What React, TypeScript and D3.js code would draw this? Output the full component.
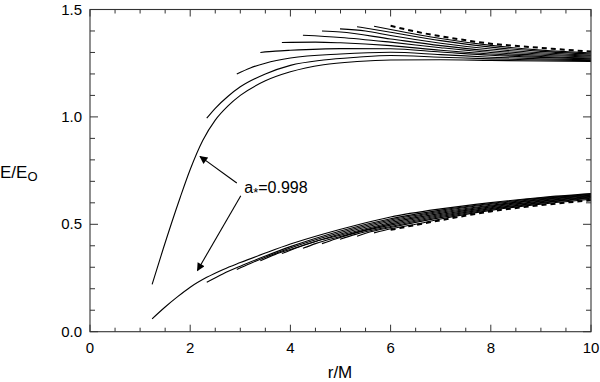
import React from "react";
import { scaleLinear, line, curveMonotoneX } from "d3";

// spin values of the curves (the last one, a*=0, is dashed)
const spins = [0.998, 0.9, 0.8, 0.7, 0.6, 0.5, 0.4, 0.3, 0.2, 0.1, 0];

// upper family: [r/M, E/Eo]
const upperCurves: [number, number][][] = [
  [[1.24, 0.22], [1.46, 0.385], [1.8, 0.625], [2.0, 0.755], [2.25, 0.89], [2.5, 0.985], [2.75, 1.05], [3, 1.1], [3.5, 1.168], [4, 1.21], [4.66, 1.243], [5.33, 1.258], [6, 1.265], [7, 1.266], [8, 1.263], [9, 1.26], [10, 1.258]],
  [[2.33, 0.994], [2.5, 1.04], [2.75, 1.095], [3, 1.14], [3.5, 1.2], [4, 1.24], [4.66, 1.265], [5.33, 1.278], [6, 1.286], [7, 1.278], [8, 1.27], [9, 1.265], [10, 1.262]],
  [[2.93, 1.2], [3.2, 1.228], [3.5, 1.25], [4, 1.274], [5, 1.293], [6, 1.301], [7, 1.29], [8, 1.278], [9, 1.27], [10, 1.266]],
  [[3.4, 1.3], [3.7, 1.306], [4, 1.31], [5, 1.318], [6, 1.317], [7, 1.302], [8, 1.287], [9, 1.277], [10, 1.27]],
  [[3.83, 1.346], [4, 1.347], [4.5, 1.348], [5, 1.345], [6, 1.332], [7, 1.31], [8, 1.293], [9, 1.281], [10, 1.274]],
  [[4.25, 1.38], [5, 1.37], [6, 1.348], [7, 1.322], [8, 1.3], [9, 1.287], [10, 1.279]],
  [[4.63, 1.4], [5, 1.395], [6, 1.363], [7, 1.332], [8, 1.308], [9, 1.293], [10, 1.284]],
  [[4.99, 1.41], [5.5, 1.4], [6, 1.379], [7, 1.343], [8, 1.316], [9, 1.299], [10, 1.288]],
  [[5.33, 1.42], [6, 1.394], [7, 1.355], [8, 1.325], [9, 1.305], [10, 1.293]],
  [[5.67, 1.422], [6, 1.407], [7, 1.365], [8, 1.333], [9, 1.311], [10, 1.298]],
  [[6, 1.424], [6.65, 1.39], [7.3, 1.364], [8, 1.341], [8.65, 1.328], [9.3, 1.316], [10, 1.304]],
];

// lower family: [r/M, E/Eo]
const lowerCurves: [number, number][][] = [
  [[1.24, 0.06], [1.5, 0.115], [1.75, 0.163], [2, 0.207], [2.33, 0.253], [2.66, 0.29], [3, 0.322], [3.5, 0.366], [4, 0.408], [4.66, 0.455], [5.33, 0.497], [6, 0.534], [7, 0.572], [8, 0.601], [9, 0.625], [10, 0.643]],
  [[2.33, 0.23], [2.66, 0.27], [3, 0.305], [3.5, 0.352], [4, 0.396], [5, 0.469], [6, 0.526], [7, 0.566], [8, 0.597], [9, 0.622], [10, 0.641]],
  [[2.93, 0.29], [3.2, 0.318], [3.5, 0.347], [4, 0.39], [5, 0.462], [6, 0.52], [7, 0.561], [8, 0.593], [9, 0.619], [10, 0.638]],
  [[3.4, 0.33], [3.7, 0.36], [4, 0.383], [5, 0.455], [6, 0.514], [7, 0.556], [8, 0.589], [9, 0.615], [10, 0.636]],
  [[3.83, 0.364], [4.1, 0.389], [4.5, 0.42], [5, 0.449], [6, 0.508], [7, 0.551], [8, 0.585], [9, 0.612], [10, 0.633]],
  [[4.25, 0.388], [4.5, 0.41], [5, 0.443], [6, 0.502], [7, 0.546], [8, 0.581], [9, 0.608], [10, 0.63]],
  [[4.63, 0.41], [4.9, 0.432], [5.3, 0.46], [6, 0.496], [7, 0.541], [8, 0.577], [9, 0.605], [10, 0.627]],
  [[4.99, 0.43], [5.3, 0.453], [6, 0.49], [7, 0.536], [8, 0.573], [9, 0.601], [10, 0.624]],
  [[5.33, 0.444], [5.6, 0.465], [6, 0.485], [7, 0.531], [8, 0.569], [9, 0.598], [10, 0.621]],
  [[5.67, 0.46], [6, 0.479], [6.5, 0.5], [7, 0.525], [8, 0.565], [9, 0.594], [10, 0.617]],
  [[6, 0.474], [6.5, 0.497], [7, 0.519], [8, 0.56], [9, 0.589], [10, 0.612]],
];

const xTicks = [0, 2, 4, 6, 8, 10];
const yTicks = [0, 0.5, 1.0, 1.5];
const yTickLabels = ["0.0", "0.5", "1.0", "1.5"];

// annotation: label position and arrow tips, in data units
const labelPos: [number, number] = [3.08, 0.645];
const arrowTails: [number, number][] = [[2.93, 0.692], [3.01, 0.633]];
const arrowTips: [number, number][] = [[2.196, 0.816], [2.145, 0.285]];

const font = "'Liberation Sans', Arial, Helvetica, sans-serif";

const App = () => {
  const width = 600;
  const height = 382;
  const xScale = scaleLinear().domain([0, 10]).range([90, 591]);
  const yScale = scaleLinear().domain([0, 1.5]).range([331.7, 9.5]);
  const [x0, x1] = xScale.range();
  const [y0, y1] = yScale.range();

  const path = line<[number, number]>()
    .x(d => xScale(d[0]))
    .y(d => yScale(d[1]))
    .curve(curveMonotoneX);

  const xMinor = xScale.ticks(20).filter(t => !xTicks.includes(t));
  const yMinor = yScale.ticks(15).filter(t => !yTicks.some(v => Math.abs(v - t) < 1e-9));
  const axisColor = "#333";

  return (
    <svg width={width} height={height} style={{ position: "absolute", left: 0, top: 0, background: "#fff" }}>
      <defs>
        <marker id="head" viewBox="0 0 10 10" refX="9" refY="5" markerWidth="10" markerHeight="8" orient="auto" markerUnits="userSpaceOnUse">
          <path d="M0,0 L10,5 L0,10 z" fill="#000" />
        </marker>
      </defs>

      {/* curves */}
      {[...upperCurves, ...lowerCurves].map((c, i) => {
        const dashed = spins[i % spins.length] === 0;
        return (
          <path key={i} d={path(c) || ""} fill="none" stroke="#000"
            strokeWidth={dashed ? 2 : 1.1}
            strokeDasharray={dashed ? "5,4" : undefined} />
        );
      })}

      {/* frame */}
      <rect x={x0} y={y1} width={x1 - x0} height={y0 - y1} fill="none" stroke={axisColor} strokeWidth={1.1} />

      {/* x ticks, bottom and top */}
      {xTicks.map(t => (
        <g key={"xt" + t}>
          <line x1={xScale(t)} x2={xScale(t)} y1={y0} y2={y0 - 7} stroke={axisColor} />
          <line x1={xScale(t)} x2={xScale(t)} y1={y1} y2={y1 + 7} stroke={axisColor} />
          <text x={xScale(t)} y={353} textAnchor="middle" fontFamily={font} fontSize={15}>{t}</text>
        </g>
      ))}
      {xMinor.map(t => (
        <g key={"xm" + t}>
          <line x1={xScale(t)} x2={xScale(t)} y1={y0} y2={y0 - 4} stroke={axisColor} />
          <line x1={xScale(t)} x2={xScale(t)} y1={y1} y2={y1 + 4} stroke={axisColor} />
        </g>
      ))}

      {/* y ticks, left and right */}
      {yTicks.map((t, i) => (
        <g key={"yt" + t}>
          <line x1={x0} x2={x0 + 8} y1={yScale(t)} y2={yScale(t)} stroke={axisColor} />
          <line x1={x1} x2={x1 - 8} y1={yScale(t)} y2={yScale(t)} stroke={axisColor} />
          <text x={82} y={yScale(t) + 5} textAnchor="end" fontFamily={font} fontSize={15}>{yTickLabels[i]}</text>
        </g>
      ))}
      {yMinor.map(t => (
        <g key={"ym" + t}>
          <line x1={x0} x2={x0 + 5} y1={yScale(t)} y2={yScale(t)} stroke={axisColor} />
          <line x1={x1} x2={x1 - 5} y1={yScale(t)} y2={yScale(t)} stroke={axisColor} />
        </g>
      ))}

      {/* axis titles */}
      <text x={340} y={378} textAnchor="middle" fontFamily={font} fontSize={17}>r/M</text>
      <text x={0} y={178} fontFamily={font} fontSize={17}>
        E/E<tspan fontSize={13} dy={3}>O</tspan>
      </text>

      {/* annotation */}
      {arrowTails.map((a, i) => (
        <line key={"ar" + i} x1={xScale(a[0])} y1={yScale(a[1])}
          x2={xScale(arrowTips[i][0])} y2={yScale(arrowTips[i][1])}
          stroke="#000" strokeWidth={1.1} markerEnd="url(#head)" />
      ))}
      <text x={xScale(labelPos[0])} y={yScale(labelPos[1])} fontFamily={font} fontSize={16}>
        a<tspan fontSize={13} dy={4}>*</tspan><tspan dy={-4}>=0.998</tspan>
      </text>
    </svg>
  );
};

export default App;
